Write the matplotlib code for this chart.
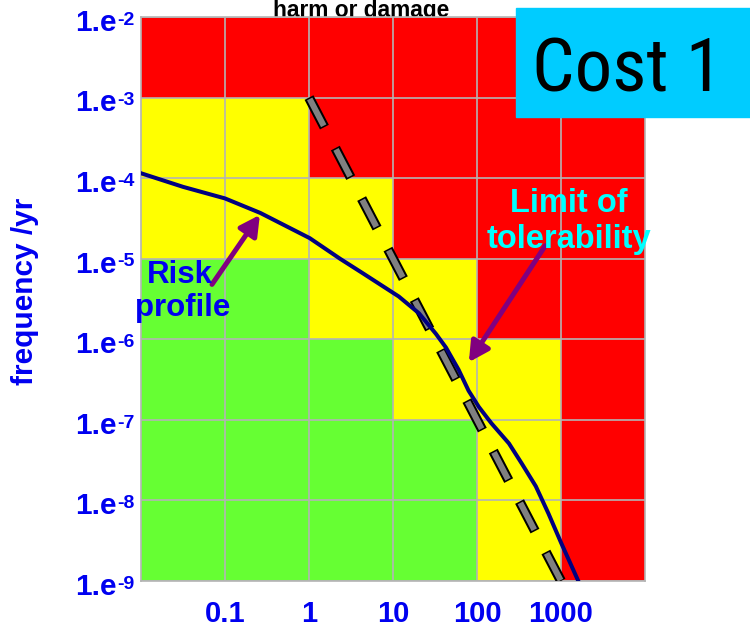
import numpy as np
import matplotlib
matplotlib.use('Agg')
import matplotlib.pyplot as plt
from matplotlib.colors import ListedColormap
from matplotlib.patches import Rectangle
from matplotlib import font_manager

# ---------------- data ----------------
x_edges = [1e-2, 1e-1, 1e0, 1e1, 1e2, 1e3, 1e4]
y_edges = [1e-9, 1e-8, 1e-7, 1e-6, 1e-5, 1e-4, 1e-3, 1e-2]

# 0 = green (broadly acceptable), 1 = yellow (ALARP), 2 = red (intolerable)
# rows go from bottom (1e-9) to top (1e-2)
zones = [
    [0, 0, 0, 0, 1, 2],
    [0, 0, 0, 0, 1, 2],
    [0, 0, 0, 1, 1, 2],
    [0, 0, 1, 1, 2, 2],
    [1, 1, 1, 2, 2, 2],
    [1, 1, 2, 2, 2, 2],
    [2, 2, 2, 2, 2, 2],
]

risk_x = [0.01, 0.0316, 0.1, 0.263, 1.02, 2.34, 4.37, 6.8, 11.7, 20.4, 32.4, 42.7,
          60.3, 79.4, 105, 148, 240, 339, 501, 708, 1000, 1620]
risk_y = [1.15e-4, 7.8e-5, 5.6e-5, 3.7e-5, 1.8e-5, 1.0e-5, 6.6e-6, 4.9e-6, 3.4e-6,
          2.1e-6, 1.17e-6, 7.9e-7, 4.2e-7, 2.3e-7, 1.45e-7, 9.1e-8, 5.1e-8, 2.9e-8,
          1.5e-8, 6.9e-9, 3.0e-9, 9.8e-10]

limit_x = [1, 1000]
limit_y = [1e-3, 1e-9]

xtick_vals = [0.1, 1, 10, 100, 1000]
xtick_labels = ['0.1', '1', '10', '100', '1000']
ytick_vals = [1e-9, 1e-8, 1e-7, 1e-6, 1e-5, 1e-4, 1e-3, 1e-2]
ytick_exps = ['-9', '-8', '-7', '-6', '-5', '-4', '-3', '-2']

# ---------------- style ----------------
plt.rcParams['font.family'] = ['Liberation Sans', 'DejaVu Sans']
plt.rcParams['lines.scale_dashes'] = False

BLUE = '#0000f0'
GRID = '#b4b4b4'
zone_cmap = ListedColormap(['#66ff33', '#ffff00', '#ff0000'])

fig = plt.figure(figsize=(7.5, 6.28), dpi=100)
ax = fig.add_axes([141/750, 1 - 581/628, 504/750, 564/628])

ax.pcolormesh(x_edges, y_edges, np.array(zones), cmap=zone_cmap, vmin=-0.5, vmax=2.5)
ax.set_xscale('log')
ax.set_yscale('log')
ax.set_xlim(1e-2, 1e4)
ax.set_ylim(1e-9, 1e-2)

ax.set_xticks(xtick_vals)
ax.set_xticklabels(xtick_labels, fontweight='bold')
ax.set_yticks(ytick_vals)
ax.minorticks_off()
ax.tick_params(axis='both', length=0)
ax.tick_params(axis='x', pad=14, labelcolor=BLUE, labelsize=21)
ax.tick_params(axis='y', labelleft=False)

# y labels "1.e" with a raised exponent
for val, ex in zip(ytick_vals, ytick_exps):
    ax.annotate('1.e', xy=(0, val), xycoords=('axes fraction', 'data'),
                xytext=(-17.3, -10.0), textcoords='offset points',
                ha='right', va='baseline', color=BLUE, fontsize=21.5,
                fontweight='bold', annotation_clip=False)
    ax.annotate(ex, xy=(0, val), xycoords=('axes fraction', 'data'),
                xytext=(-17.0, -5.6), textcoords='offset points',
                ha='left', va='baseline', color=BLUE, fontsize=14,
                fontweight='bold', annotation_clip=False)

ax.grid(True, color=GRID, lw=1.2)
for s in ax.spines.values():
    s.set_color(GRID)
    s.set_linewidth(1.2)

# limit of tolerability: grey dashes with black outline
ax.plot(limit_x, limit_y, color='black', lw=7.2, linestyle=(0, (24, 17)),
        dash_capstyle='butt', zorder=4)
ax.plot(limit_x, limit_y, color='#808080', lw=4.3, linestyle=(39.9, (21.8, 19.2)),
        dash_capstyle='butt', zorder=5)

# risk profile
ax.plot(risk_x, risk_y, color='#000080', lw=2.9, zorder=6, solid_joinstyle='round')

arrow = dict(arrowstyle='-|>,head_length=0.6,head_width=0.32', color='#800080',
             lw=3.6, shrinkA=0, shrinkB=0, mutation_scale=20)
ax.annotate('', xy=(0.26, 3.5e-5), xytext=(0.07, 4.8e-6), arrowprops=arrow, zorder=7)
ax.annotate('', xy=(80, 5.2e-7), xytext=(650, 1.45e-5), arrowprops=arrow, zorder=7)

ax.text(0.077, 0.5275, 'Risk', transform=ax.transAxes, ha='center', va='baseline',
        color=BLUE, fontsize=22.5, fontweight='bold', zorder=8)
ax.text(0.083, 0.469, 'profile', transform=ax.transAxes, ha='center', va='baseline',
        color=BLUE, fontsize=22.5, fontweight='bold', zorder=8)
ax.text(0.849, 0.654, 'Limit of', transform=ax.transAxes, ha='center', va='baseline',
        color='#00ffff', fontsize=23.5, fontweight='bold', zorder=8)
ax.text(0.849, 0.590, 'tolerability', transform=ax.transAxes, ha='center', va='baseline',
        color='#00ffff', fontsize=23.5, fontweight='bold', zorder=8)

fig.text(25/750, 1 - 291/628, 'frequency /yr', rotation=90, ha='center', va='center',
         color=BLUE, fontsize=21.5, fontweight='bold')

fig.text(361/750, 1 - 16.5/628, 'harm or damage', ha='center', va='baseline',
         fontsize=16.4, fontweight='bold', color='black', zorder=-1)

# "Cost 1" badge, narrow font if there is one
installed = {f.name for f in font_manager.fontManager.ttflist}
narrow = [n for n in ['Liberation Sans Narrow', 'DejaVu Sans Condensed', 'Roboto Condensed']
          if n in installed]
if narrow:
    cost_family, cost_size = narrow[0], 54
else:
    cost_family, cost_size = 'Roboto', 46

fig.add_artist(Rectangle((516/750, 1 - 117/628), 234/750, 109/628,
                         transform=fig.transFigure, color='#00ccff', zorder=10))
fig.text(627/750, 1 - 92/628, 'Cost 1', ha='center', va='baseline', fontsize=cost_size,
         family=cost_family, color='black', zorder=11)

fig.savefig('out.png', dpi=100)
